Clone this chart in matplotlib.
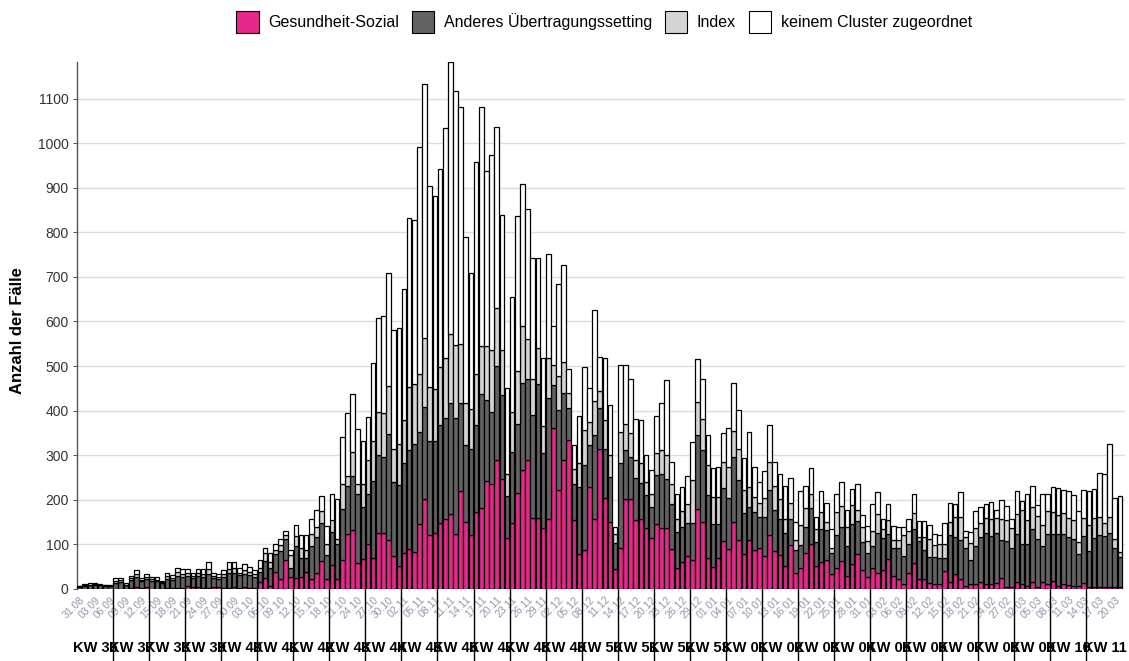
import datetime
import numpy as np
import matplotlib
matplotlib.use("Agg")
from matplotlib import pyplot as plt
from matplotlib.patches import Patch
import matplotlib.transforms as mtransforms

plt.rcParams['font.family'] = ['Liberation Sans', 'DejaVu Sans']

# daily case counts from 31.08.2020 to 21.03.2021, one value per day
pink = [0, 0, 0, 0, 0, 0, 0,
        1, 1, 0, 2, 5, 3, 4,
        1, 1, 1, 2, 2, 2, 2,
        6, 5, 5, 2, 2, 5, 5,
        2, 3, 4, 3, 4, 3, 2,
        15, 25, 6, 39, 23, 64, 27,
        25, 27, 39, 23, 37, 62, 23,
        54, 22, 64, 124, 133, 58, 68,
        102, 70, 126, 126, 110, 73, 52,
        80, 89, 84, 145, 201, 121, 126,
        148, 158, 168, 124, 219, 151, 120,
        173, 182, 242, 235, 290, 247, 114,
        148, 216, 266, 290, 160,
        160, 136, 158, 362, 222, 290, 335,
        155, 78, 87, 229, 156, 315, 205,
        151, 44, 93, 201, 201, 155, 158,
        136, 114, 145, 137, 136, 90, 48, 60,
        74, 65, 179, 151, 70, 49, 70, 108,
        90, 151, 111, 78, 111, 87, 91,
        75, 121, 86, 76, 52, 99, 37,
        46, 80, 102, 52, 61, 65, 34,
        46, 63, 29, 57, 78, 43, 28,
        48, 37, 43, 67, 30, 22, 11,
        37, 59, 22, 22, 14, 11, 11,
        40, 16, 33, 22, 7, 11, 11,
        16, 11, 11, 13, 24, 5, 5,
        15, 11, 7, 15, 5, 15, 11,
        18, 7, 11, 10, 7, 7, 13,
        5, 5, 5, 5, 5, 5, 5]

dark = [5, 7, 9, 10, 8, 7, 7,
        13, 15, 8, 18, 22, 14, 18,
        18, 16, 12, 20, 18, 28, 25,
        24, 20, 24, 26, 32, 20, 17,
        24, 34, 33, 28, 30, 28, 24,
        24, 37, 42, 40, 62, 48, 19,
        72, 43, 31, 74, 79, 85, 54,
        74, 78, 116, 108, 120, 155, 117,
        111, 173, 175, 169, 238, 167, 181,
        202, 222, 242, 207, 207, 211, 206,
        219, 225, 249, 259, 198, 171, 193,
        194, 255, 181, 163, 210, 188, 95,
        160, 153, 196, 181, 230,
        300, 170, 270, 95, 180, 150, 70,
        80, 150, 190, 95, 190, 90, 110,
        100, 60, 190, 110, 95, 95, 80,
        75, 70, 110, 120, 110, 100, 80, 80,
        75, 84, 166, 160, 141, 97, 76, 118,
        115, 144, 133, 93, 72, 86, 70,
        86, 101, 92, 80, 74, 59, 50,
        53, 60, 79, 54, 73, 67, 46,
        75, 77, 68, 89, 75, 62, 53,
        48, 88, 71, 56, 61, 69, 64,
        63, 76, 86, 65, 58, 61, 58,
        29, 104, 84, 88, 84, 54, 85,
        101, 114, 108, 112, 86, 103, 86,
        108, 90, 95, 119, 108, 82, 112,
        105, 116, 112, 107, 106, 71, 106,
        81, 110, 116, 114, 121, 86, 66]

light = [1, 1, 1, 1, 1, 1, 0,
         3, 4, 2, 4, 6, 3, 4,
         4, 4, 2, 7, 5, 8, 7,
         6, 5, 7, 6, 10, 4, 4,
         7, 8, 9, 6, 9, 7, 7,
         8, 19, 12, 8, 14, 8, 31,
         21, 23, 17, 27, 22, 27, 25,
         27, 12, 55, 21, 55, 22, 50,
         77, 89, 97, 99, 108, 73, 92,
         98, 143, 134, 131, 155, 122, 116,
         130, 136, 156, 164, 132, 95, 91,
         115, 109, 123, 137, 130, 102, 48,
         88, 119, 128, 89, 80,
         80, 60, 90, 45, 75, 70, 35,
         35, 55, 80, 50, 75, 40, 65,
         50, 20, 70, 60, 55, 40, 45,
         30, 30, 50, 55, 55, 45, 30, 35,
         41, 95, 75, 71, 68, 61, 61, 59,
         69, 60, 71, 52, 46, 34, 31,
         42, 63, 53, 45, 31, 34, 23,
         44, 41, 33, 28, 39, 19, 11,
         52, 46, 43, 42, 25, 35, 27,
         35, 43, 20, 32, 20, 20, 46,
         30, 35, 8, 30, 41, 27, 32,
         32, 30, 45, 52, 26, 39, 40,
         30, 35, 39, 35, 47, 47, 45,
         45, 76, 53, 50, 51, 46, 52,
         50, 43, 48, 43, 42, 28, 41,
         57, 45, 41, 28, 36, 21, 13]

white = [1, 3, 3, 2, 2, 1, 2,
         8, 5, 4, 6, 10, 4, 7,
         5, 7, 4, 8, 6, 10, 11,
         8, 7, 8, 10, 16, 8, 7,
         10, 15, 14, 9, 13, 11, 9,
         18, 12, 21, 15, 13, 10, 11,
         26, 28, 34, 34, 39, 34, 40,
         57, 89, 107, 141, 130, 123, 97,
         95, 174, 209, 219, 253, 267, 260,
         292, 377, 367, 509, 569, 450, 433,
         446, 514, 609, 570, 533, 373, 305,
         476, 536, 392, 439, 406, 301, 193,
         259, 349, 318, 292, 272,
         203, 151, 234, 87, 208, 216, 54,
         53, 105, 141, 77, 204, 76, 138,
         111, 16, 150, 132, 121, 92, 96,
         59, 54, 83, 105, 167, 50, 56, 53,
         64, 85, 95, 90, 66, 65, 67, 66,
         86, 106, 86, 71, 123, 67, 48,
         61, 82, 53, 57, 74, 56, 41,
         77, 50, 58, 28, 47, 42, 43,
         41, 53, 38, 36, 57, 26, 33,
         59, 49, 22, 35, 30, 29, 19,
         26, 42, 37, 36, 30, 24, 20,
         46, 43, 28, 55, 14, 24, 39,
         37, 30, 38, 18, 42, 32, 21,
         52, 21, 57, 47, 24, 69, 39,
         56, 61, 52, 60, 55, 69, 62,
         77, 65, 99, 110, 164, 93, 124]

kw_labels = ["KW 36", "KW 37", "KW 38", "KW 39", "KW 40", "KW 41", "KW 42",
             "KW 43", "KW 44", "KW 45", "KW 46", "KW 47", "KW 48", "KW 49",
             "KW 50", "KW 51", "KW 52", "KW 53", "KW 01", "KW 02", "KW 03",
             "KW 04", "KW 05", "KW 06", "KW 07", "KW 08", "KW 09", "KW 10",
             "KW 11"]

start = datetime.date(2020, 8, 31)
n_days = len(pink)
date_labels = [(start + datetime.timedelta(days=d)).strftime('%d.%m') for d in range(n_days)]

series = [("Gesundheit-Sozial", pink, "#e5288b"),
          ("Anderes Übertragungssetting", dark, "#626262"),
          ("Index", light, "#d4d4d4"),
          ("keinem Cluster zugeordnet", white, "#ffffff")]

fig = plt.figure(figsize=(11.29, 6.61), dpi=100)
ax = fig.add_axes([77 / 1129, 72 / 661, 1048 / 1129, 527 / 661])

x = np.arange(n_days)
bottom = np.zeros(n_days)
for name, vals, col in series:
    ax.bar(x, vals, bottom=bottom, width=0.9, color=col, edgecolor='black', linewidth=0.9, zorder=3)
    bottom += np.array(vals)

ax.set_xlim(-0.5, 203)
ax.set_ylim(0, 1182)
ax.set_yticks(range(0, 1200, 100))
ax.yaxis.grid(True, color='#dcdcdc', linewidth=1.0, zorder=0)
ax.tick_params(axis='y', labelsize=10, colors='#333333', length=3, width=0.6, pad=3)
for s in ['top', 'right', 'bottom']:
    ax.spines[s].set_visible(False)
ax.spines['left'].set_color('#555555')
ax.spines['left'].set_linewidth(1.0)

# date ticks every 3 days
ticks = list(range(0, n_days, 3))
ax.set_xticks(ticks)
ax.set_xticklabels([date_labels[t] for t in ticks], rotation=45, ha='right',
                   rotation_mode='anchor', fontsize=7.5, color='#8e97aa')
ax.tick_params(axis='x', length=0, pad=4)

# calendar week separators and labels below the axis
trans = mtransforms.blended_transform_factory(ax.transData, ax.transAxes)
for w in range(1, len(kw_labels)):
    ax.plot([w * 7 - 0.5, w * 7 - 0.5], [0, -0.137], color='black', linewidth=1.0,
            transform=trans, clip_on=False, zorder=4)
for w, lab in enumerate(kw_labels):
    ax.text(w * 7 + 3, -0.112, lab, transform=trans, ha='center', va='center',
            fontsize=10.5, fontweight='bold', color='black')

fig.text(18 / 1129, 0.5, "Anzahl der Fälle", rotation=90, ha='center', va='center',
         fontsize=12, fontweight='bold')

handles = [Patch(facecolor=col, edgecolor='black', linewidth=0.8, label=name) for name, vals, col in series]
fig.legend(handles=handles, loc='center', bbox_to_anchor=(604 / 1129, 1 - 22 / 661), ncol=4,
           frameon=False, fontsize=11.5, handlelength=1.4, handleheight=1.8,
           columnspacing=0.8, handletextpad=0.6)

fig.savefig("out.png", dpi=100)
